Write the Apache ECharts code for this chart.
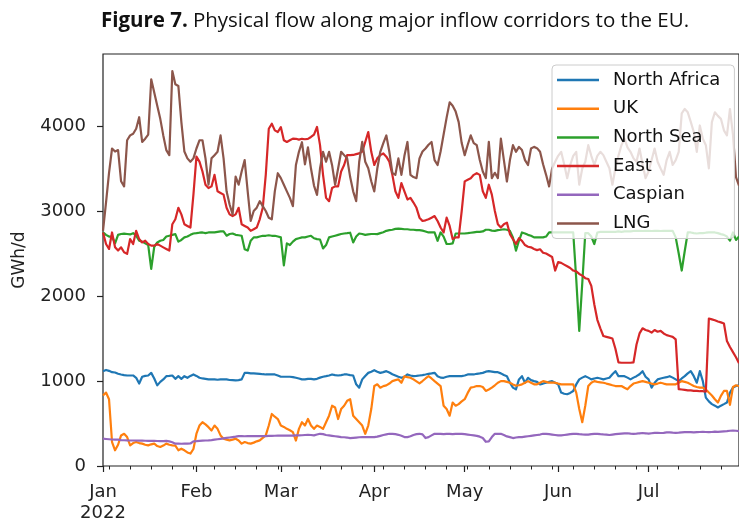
<!DOCTYPE html>
<html>
<head>
<meta charset="utf-8">
<script src="https://cdn.jsdelivr.net/npm/echarts@6/dist/echarts.min.js"></script>
<style>
  html, body { margin: 0; padding: 0; background: #fff; }
  #chart { width: 739px; height: 524px; }
</style>
</head>
<body>
<div id="chart"></div>
<script>
// Daily flows in GWh/d, index 0 = 1 Jan 2022
const startDate = '2022-01-01';

const northAfrica = [
  1116,1130,1120,1104,1100,1085,1077,1070,1065,1065,1065,1038,970,1050,1060,1065,1096,1030,949,990,
  1019,1057,1060,1065,1026,1057,1026,1057,1038,1060,1077,1060,1038,1030,1026,1020,1019,1019,1015,1019,
  1019,1019,1012,1010,1007,1010,1019,1096,1096,1090,1090,1088,1085,1080,1077,1077,1077,1077,1065,1050,
  1050,1050,1050,1045,1038,1030,1020,1019,1026,1026,1020,1026,1040,1050,1057,1065,1077,1070,1065,1070,
  1077,1077,1070,1065,961,922,1019,1060,1096,1110,1127,1110,1096,1105,1116,1100,1080,1065,1050,1038,
  1050,1077,1065,1057,1060,1065,1070,1077,1085,1090,1096,1057,1040,1038,1050,1057,1057,1057,1057,1057,
  1065,1077,1077,1077,1085,1090,1096,1110,1116,1110,1104,1104,1090,1070,1057,980,922,902,1019,1057,
  980,1038,1010,999,990,961,970,980,990,999,980,961,864,850,844,860,883,960,1019,1040,
  1057,1040,1019,1030,1038,1030,1019,1030,1038,1080,1116,1057,1057,1057,1040,1019,1040,1057,1080,1116,
  1050,1019,922,980,1019,1030,1038,1045,1057,1040,1019,999,1030,1057,1090,1116,1057,980,1116,999,
  805,760,728,710,689,710,728,747,864,922,941,950
];

const uk = [
  830,864,786,282,185,250,360,379,340,243,270,282,270,263,250,243,255,263,235,224,
  240,263,250,243,240,185,204,185,160,146,200,380,476,515,490,457,418,476,437,360,
  321,310,301,310,321,301,263,282,270,263,275,290,301,330,360,476,612,580,553,476,
  460,437,420,398,300,437,515,476,553,476,437,476,460,437,515,592,709,689,553,670,
  709,767,786,592,553,515,476,379,476,670,941,961,922,940,949,970,999,1010,1019,980,
  1057,1045,1038,1019,995,972,1000,1030,1057,1030,999,970,941,709,670,592,747,709,728,760,
  786,860,922,930,941,941,930,883,900,922,950,980,999,999,990,980,960,945,950,961,
  980,999,980,961,961,980,999,990,980,980,980,970,961,961,961,961,961,864,670,515,
  709,941,980,999,990,985,980,970,961,950,941,941,941,920,902,940,970,980,990,999,
  990,980,970,961,970,980,970,961,961,961,961,980,999,990,980,960,941,930,922,922,
  900,864,830,786,747,825,883,883,720,930,950,940
];

const northSea = [
  2750,2720,2700,2700,2620,2720,2730,2735,2730,2725,2740,2710,2650,2640,2620,2600,2320,2580,2630,2650,
  2660,2700,2710,2720,2728,2640,2660,2690,2700,2720,2736,2740,2745,2748,2740,2748,2750,2750,2755,2760,
  2760,2710,2730,2736,2720,2715,2709,2550,2535,2650,2690,2690,2700,2709,2709,2715,2709,2709,2700,2690,
  2360,2620,2600,2640,2670,2680,2690,2690,2700,2709,2680,2670,2665,2560,2600,2690,2700,2710,2720,2730,
  2736,2740,2745,2630,2700,2736,2730,2720,2725,2730,2730,2728,2740,2750,2767,2775,2780,2790,2794,2790,
  2786,2786,2780,2780,2775,2775,2770,2760,2748,2748,2748,2650,2748,2700,2612,2612,2620,2736,2736,2736,
  2736,2740,2745,2750,2755,2755,2760,2780,2780,2770,2767,2775,2780,2786,2780,2767,2690,2535,2650,2748,
  2736,2720,2710,2690,2690,2690,2690,2700,2748,2748,2748,2748,2750,2750,2748,2748,2748,2200,1590,2150,
  2740,2740,2700,2612,2748,2755,2755,2755,2755,2755,2755,2760,2755,2760,2760,2760,2765,2767,2767,2765,
  2767,2767,2765,2767,2767,2765,2767,2767,2767,2767,2690,2500,2300,2530,2748,2748,2740,2736,2740,2740,
  2745,2748,2748,2748,2740,2728,2720,2700,2651,2748,2660,2700
];

const east = [
  2748,2612,2554,2748,2573,2535,2573,2515,2496,2670,2612,2767,2670,2631,2651,2612,2593,2593,2612,2593,
  2573,2554,2535,2845,2903,3038,2961,2845,2825,2806,3193,3640,3581,3465,3310,3271,3290,3426,3232,3213,
  3193,3038,2961,2941,2961,3038,2845,2825,2806,2767,2786,2806,2903,3038,3426,3969,4027,3949,3930,3988,
  3833,3813,3833,3852,3850,3840,3850,3845,3850,3872,3900,3990,3775,3426,3155,3116,3271,3290,3290,3465,
  3542,3658,3658,3660,3670,3678,3700,3813,3930,3697,3542,3620,3658,3678,3640,3581,3426,3232,3155,3329,
  3232,3136,3155,3100,3038,2922,2883,2891,2903,2922,2941,2883,2806,2748,2922,2825,2670,2690,2690,3000,
  3349,3368,3387,3426,3445,3426,3232,3155,3310,3193,3000,2845,2806,2845,2864,2729,2670,2612,2680,2650,
  2600,2580,2573,2554,2540,2550,2510,2500,2480,2460,2300,2400,2390,2370,2350,2330,2300,2290,2260,2240,
  2210,2200,2120,1900,1720,1620,1530,1520,1510,1500,1380,1220,1215,1215,1215,1215,1220,1430,1560,1620,
  1600,1590,1570,1600,1580,1590,1560,1540,1530,1520,1490,905,900,895,890,890,885,885,880,880,
  875,1735,1725,1715,1700,1690,1677,1470,1400,1340,1280,1210
];

const caspian = [
  321,318,315,312,310,310,305,303,301,300,300,300,298,298,297,296,296,295,294,293,
  292,295,290,280,263,263,262,263,263,265,290,292,295,298,300,301,305,310,315,320,
  325,330,335,340,345,352,352,350,352,352,352,352,352,352,352,355,355,356,358,358,
  358,358,358,358,360,360,362,365,367,365,360,370,379,375,365,360,355,350,345,340,
  338,335,329,332,335,338,340,340,340,340,340,345,355,365,372,379,379,375,367,355,
  340,340,350,365,375,379,372,329,340,360,379,379,379,375,379,379,375,379,379,379,
  375,370,365,360,355,345,330,285,290,340,379,379,379,365,348,340,329,335,340,340,
  345,350,355,360,365,370,379,379,375,370,365,360,360,365,370,375,379,379,375,372,
  370,370,375,379,379,375,372,370,365,370,375,379,382,385,385,380,378,380,385,388,
  385,380,385,390,390,388,390,395,395,392,390,392,395,398,400,398,395,398,400,402,
  400,398,400,405,402,405,408,410,415,418,415,410
];

const lng = [
  2767,3100,3450,3736,3700,3717,3350,3290,3833,3890,3910,3968,4104,3813,3852,3900,4550,4395,4240,4085,
  3890,3717,3658,4647,4492,4472,4046,3700,3620,3580,3620,3736,3833,3833,3620,3310,3620,3658,3697,3890,
  3620,3232,3077,2960,3406,3310,3465,3600,3232,2883,3000,3040,3116,3058,3000,2922,2903,3232,3445,3387,
  3310,3232,3155,3058,3542,3697,3810,3550,3750,3500,3300,3190,3500,3697,3580,3697,3540,3310,3500,3697,
  3658,3620,3400,3232,3116,3580,3813,3580,3503,3350,3232,3500,3697,3800,3890,3697,3450,3426,3620,3426,
  3650,3813,3426,3400,3387,3620,3700,3736,3780,3813,3600,3542,3700,3900,4100,4279,4240,4170,4046,3800,
  3658,3780,3890,3800,3775,3600,3465,3387,3813,3387,3450,3387,3852,3600,3348,3600,3775,3697,3755,3717,
  3600,3542,3736,3755,3740,3697,3550,3426,3290,3500,3580,3650,3697,3550,3387,3542,3650,3697,3310,3500,
  3580,3775,3650,3542,3650,3697,3658,3580,3503,3310,3503,3650,3775,3852,3750,3697,3620,3580,3736,3550,
  3387,3465,3600,3736,3580,3500,3426,3600,3697,3542,3600,3697,4150,4201,4162,4050,3930,3697,4007,3850,
  3775,3503,4046,4162,4120,4085,3950,3891,4201,3900,3400,3300
];

// Month starts (day offsets) and their labels; weekly minor ticks on Mondays
const monthTicks = [0, 31, 59, 90, 120, 151, 181];
const monthLabels = ['Jan\n2022', 'Feb', 'Mar', 'Apr', 'May', 'Jun', 'Jul'];
const mondayTicks = [2, 9, 16, 23, 30, 37, 44, 51, 58, 65, 72, 79, 86, 93, 100, 107, 114, 121, 128,
  135, 142, 149, 156, 163, 170, 177, 184, 191, 198, 205];
const yTicks = [0, 1000, 2000, 3000, 4000];

const seriesDefs = [
  { name: 'North Africa', values: northAfrica, color: '#1f77b4' },
  { name: 'UK', values: uk, color: '#ff7f0e' },
  { name: 'North Sea', values: northSea, color: '#2ca02c' },
  { name: 'East', values: east, color: '#d62728' },
  { name: 'Caspian', values: caspian, color: '#9467bd' },
  { name: 'LNG', values: lng, color: '#8c564b' }
];

const FONT = 'DejaVu Sans';
const INK = '#222';
const TITLE_FONT = 'Open Sans';

const chart = echarts.init(document.getElementById('chart'), null, { renderer: 'canvas' });

chart.setOption({
  animation: false,
  backgroundColor: '#fff',
  title: {
    left: 96,
    top: 6,
    text: '{b|Figure 7.} {n|Physical flow along major inflow corridors to the EU.}',
    textStyle: {
      fontWeight: 'normal',
      rich: {
        b: { fontFamily: TITLE_FONT, fontWeight: 'bold', fontSize: 20.5, color: '#111' },
        n: { fontFamily: TITLE_FONT, fontWeight: 'normal', fontSize: 20.5, color: '#111' }
      }
    }
  },
  grid: {
    left: 103,
    top: 54,
    width: 642,
    height: 416,
    show: true,
    borderColor: INK,
    borderWidth: 1.2,
    backgroundColor: 'transparent'
  },
  legend: {
    orient: 'vertical',
    left: 552,
    top: 65,
    padding: [6, 14, 6, 5],
    icon: 'rect',
    itemWidth: 42,
    itemHeight: 2.5,
    itemGap: 10.7,
    backgroundColor: 'rgba(255,255,255,0.8)',
    borderColor: '#cccccc',
    borderWidth: 1,
    borderRadius: 4,
    textStyle: { fontFamily: FONT, fontSize: 18, lineHeight: 18, color: '#111', padding: [0, 0, 0, 9] },
    data: seriesDefs.map(s => s.name)
  },
  xAxis: [
    {
      type: 'value',
      min: 0,
      max: 211,
      axisLine: { show: false },
      splitLine: { show: false },
      axisTick: { show: true, length: 6, customValues: monthTicks, lineStyle: { color: INK, width: 1.2 } },
      axisLabel: {
        customValues: monthTicks,
        margin: 16,
        fontFamily: FONT,
        fontSize: 18,
        lineHeight: 21,
        color: INK,
        formatter: v => monthLabels[monthTicks.indexOf(v)] || ''
      }
    },
    {
      type: 'value',
      min: 0,
      max: 211,
      position: 'bottom',
      axisLine: { show: false },
      splitLine: { show: false },
      axisTick: { show: true, length: 3.5, customValues: mondayTicks, lineStyle: { color: INK, width: 1 } },
      axisLabel: { show: false }
    }
  ],
  yAxis: {
    type: 'value',
    min: 0,
    max: 4848,
    axisLine: { show: false },
    splitLine: { show: false },
    axisTick: { show: true, length: 6, customValues: yTicks, lineStyle: { color: INK, width: 1.2 } },
    axisLabel: {
      customValues: yTicks,
      margin: 17,
      fontFamily: FONT,
      fontSize: 18,
      color: INK,
      formatter: v => String(v)
    },
    name: 'GWh/d',
    nameLocation: 'middle',
    nameRotate: 90,
    nameGap: 75,
    nameTextStyle: { fontFamily: FONT, fontSize: 17, color: INK }
  },
  series: seriesDefs.map(s => ({
    name: s.name,
    type: 'line',
    xAxisIndex: 0,
    symbol: 'none',
    color: s.color,
    lineStyle: { color: s.color, width: 2.2, join: 'round' },
    data: s.values.map((v, i) => [i, v])
  }))
});
</script>
</body>
</html>
